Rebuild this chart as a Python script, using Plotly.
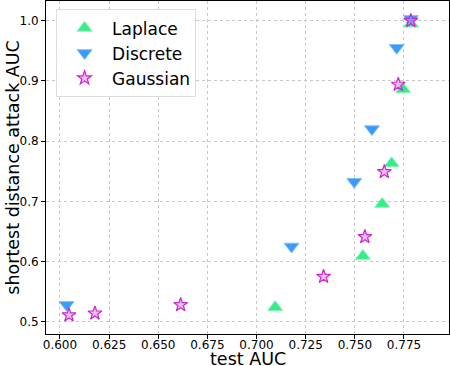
import plotly.graph_objects as go

# values
laplace_x = [0.7095, 0.7541, 0.7639, 0.7687, 0.7746, 0.7785]
laplace_y = [0.524, 0.609, 0.6955, 0.763, 0.886, 0.995]

discrete_x = [0.6034, 0.7178, 0.7497, 0.7587, 0.7713, 0.7785]
discrete_y = [0.528, 0.625, 0.7325, 0.820, 0.955, 1.003]

gaussian_x = [0.6046, 0.6178, 0.6614, 0.7341, 0.7551, 0.765, 0.7721, 0.7785]
gaussian_y = [0.511, 0.514, 0.528, 0.575, 0.641, 0.749, 0.894, 1.0]

x_ticks = [0.600, 0.625, 0.650, 0.675, 0.700, 0.725, 0.750, 0.775]
y_ticks = [0.5, 0.6, 0.7, 0.8, 0.9, 1.0]

font = "DejaVu Sans"

fig = go.Figure()
fig.add_trace(go.Scatter(
    x=laplace_x, y=laplace_y, mode="markers", name="Laplace",
    marker=dict(symbol="triangle-up", size=13, color="#33ee88",
                line=dict(color="#7ff5b0", width=1))))
fig.add_trace(go.Scatter(
    x=discrete_x, y=discrete_y, mode="markers", name="Discrete",
    marker=dict(symbol="triangle-down", size=13, color="#3a9cf5",
                line=dict(color="#80c0ff", width=1))))
fig.add_trace(go.Scatter(
    x=gaussian_x, y=gaussian_y, mode="markers", name="Gaussian",
    marker=dict(symbol="star", size=10.5, color="rgba(230,130,235,0.55)",
                line=dict(color="#c828d0", width=1.2))))

axis_common = dict(
    showline=True, linecolor="black", linewidth=1, mirror=True,
    ticks="outside", ticklen=4, tickcolor="black", automargin=False,
    showgrid=True, gridcolor="#c8c8c8", griddash="dot", gridwidth=1,
    zeroline=False, tickfont=dict(family=font, size=12, color="black"),
)

fig.update_xaxes(range=[0.5929, 0.7979], tickvals=x_ticks, tickformat=".3f",
                 ticklabelstandoff=-4, **axis_common)
fig.update_yaxes(range=[0.4796, 1.0327], tickvals=y_ticks, tickformat=".1f", **axis_common)

# axis titles as annotations so they sit where the reference has them
fig.add_annotation(text="test AUC", xref="paper", yref="paper", x=0.5, y=-0.042,
                   xanchor="center", yanchor="top", showarrow=False, borderpad=0,
                   font=dict(family=font, size=17.5, color="black"))
fig.add_annotation(text="shortest distance attack AUC", xref="paper", yref="paper",
                   x=-0.084, y=0.5, xanchor="center", yanchor="middle", textangle=-90,
                   showarrow=False, font=dict(family=font, size=17.5, color="black"))

fig.update_layout(
    width=450, height=366,
    margin=dict(l=46, r=1, t=1, b=32),
    plot_bgcolor="white", paper_bgcolor="white",
    font=dict(family=font, color="black"),
    legend=dict(x=0.025, y=0.975, xanchor="left", yanchor="top",
                bgcolor="rgba(255,255,255,0.9)", bordercolor="#dddddd", borderwidth=1,
                font=dict(family=font, size=17, color="black"),
                itemwidth=45),
    showlegend=True,
)

# drop the browser's default 8px body margin so the figure sits at the window corner
fig.write_html("out.html", config={"displayModeBar": False},
               post_script="document.body.style.margin='0';")
